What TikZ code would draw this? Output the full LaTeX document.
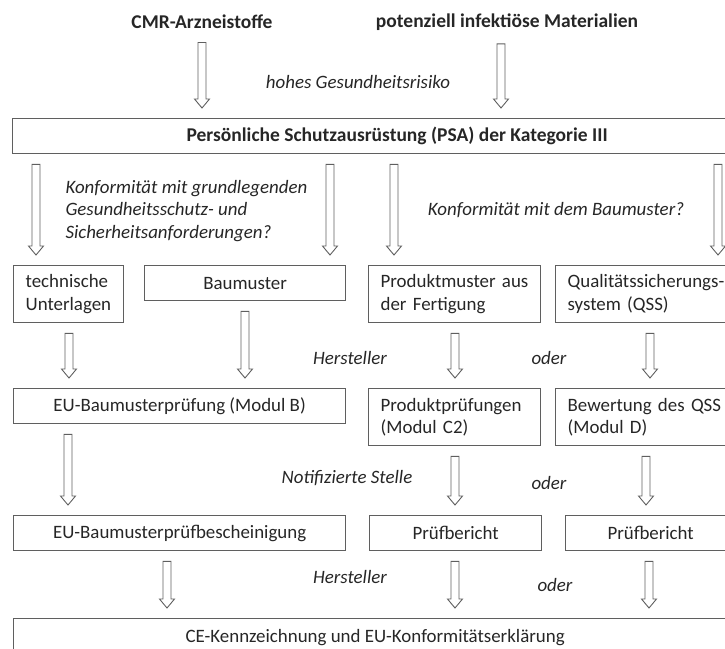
\documentclass[tikz,border=0pt]{standalone}
\usepackage{fontspec}
\setmainfont{Carlito}
\usetikzlibrary{calc}
\definecolor{linegray}{RGB}{95,95,95}

\begin{document}
\begin{tikzpicture}[x=1pt,y=-1pt,font=\fontsize{18.9}{22.5}\selectfont,text=black!85,
 box/.style={draw=linegray,line width=1.3pt,anchor=north west,inner xsep=12pt,inner ysep=2pt},
 lbox/.style={box,align=left,text width=#1-24pt,minimum height=57pt},
 cbox/.style={box,align=center,minimum width=#1,minimum height=35pt},
 note/.style={font=\fontsize{18.9}{22.5}\selectfont\itshape},
 head/.style={font=\fontsize{19.5}{22.5}\selectfont\bfseries},
 hol/.style={draw=linegray,line width=0.9pt,to path={let \p1=(\tikztostart),\p2=(\tikztotarget) in
  ({#1pt-4pt},{\y1-10pt}) -- ({#1pt+4pt},{\y1-10pt}) -- ({#1pt+4pt},{\y2+19pt}) -- ({#1pt+7.5pt},{\y2+19pt})
  -- ({#1pt},{\y2+10pt}) -- ({#1pt-7.5pt},{\y2+19pt}) -- ({#1pt-4pt},{\y2+19pt}) -- cycle}}]
\useasboundingbox (0,0) rectangle (725,648);
\node[head] (cmr) at (202,22) {CMR-Arzneistoffe};
\node[head] (pot) at (507,22) {potenziell infektiöse Materialien};
\node[note] (risk) at (358,82) {hohes Gesundheitsrisiko};
\node[cbox=769pt,head] (psa) at (12,118) {Persönliche Schutzausrüstung (PSA) der Kategorie III};
\node[note,align=left,anchor=west] (q1) at (62,211) {Konformität mit grundlegenden\\Gesundheitsschutz- und\\Sicherheitsanforderungen?};
\node[note] (q2) at (556,210) {Konformität mit dem Baumuster?};
\node[lbox=110pt] (tu) at (13,265) {technische\\Unterlagen};
\node[cbox=201pt] (bm) at (144,265) {Baumuster};
\node[lbox=172pt] (pm) at (368,265) {Produktmuster aus\\der Fertigung};
\node[lbox=190pt] (qss) at (555,265) {Qualitätssicherungs-\\system (QSS)};
\node[note] (her1) at (350,358) {Hersteller};
\node[note] (oder1) at (549,358) {oder};
\node[cbox=332pt] (ebp) at (13,388) {EU-Baumusterprüfung (Modul B)};
\node[lbox=172pt] (pp) at (368,388) {Produktprüfungen\\(Modul C2)};
\node[lbox=190pt] (bq) at (555,388) {Bewertung des QSS\\(Modul D)};
\node[note] (nst) at (347,478) {Notifizierte Stelle};
\node[note] (oder2) at (549,483) {oder};
\node[cbox=332pt] (ebb) at (13,515) {EU-Baumusterprüfbescheinigung};
\node[cbox=172pt] (pb1) at (369,515) {Prüfbericht};
\node[cbox=170pt] (pb2) at (565,515) {Prüfbericht};
\node[note] (her2) at (350,577) {Hersteller};
\node[note] (oder3) at (555,585) {oder};
\node[cbox=723pt,minimum height=38pt] (ce) at (13,618) {CE-Kennzeichnung und EU-Konformitätserklärung};
\draw[hol=202] (cmr.south) to (psa.north); \draw[hol=501] (pot.south) to (psa.north);
\draw[hol=36] (psa.south) to (tu.north); \draw[hol=330] (psa.south) to (bm.north);
\draw[hol=394] (psa.south) to (pm.north); \draw[hol=718] (psa.south) to (qss.north);
\draw[hol=69] (tu.south) to (ebp.north); \draw[hol=245] (bm.south) to (ebp.north);
\draw[hol=455] (pm.south) to (pp.north); \draw[hol=650] (qss.south) to (bq.north);
\draw[hol=68] (ebp.south) to (ebb.north); \draw[hol=455] (pp.south) to (pb1.north);
\draw[hol=646] (bq.south) to (pb2.north);
\draw[hol=167] (ebb.south) to (ce.north); \draw[hol=455] (pb1.south) to (ce.north);
\draw[hol=649] (pb2.south) to (ce.north);
\end{tikzpicture}
\end{document}
